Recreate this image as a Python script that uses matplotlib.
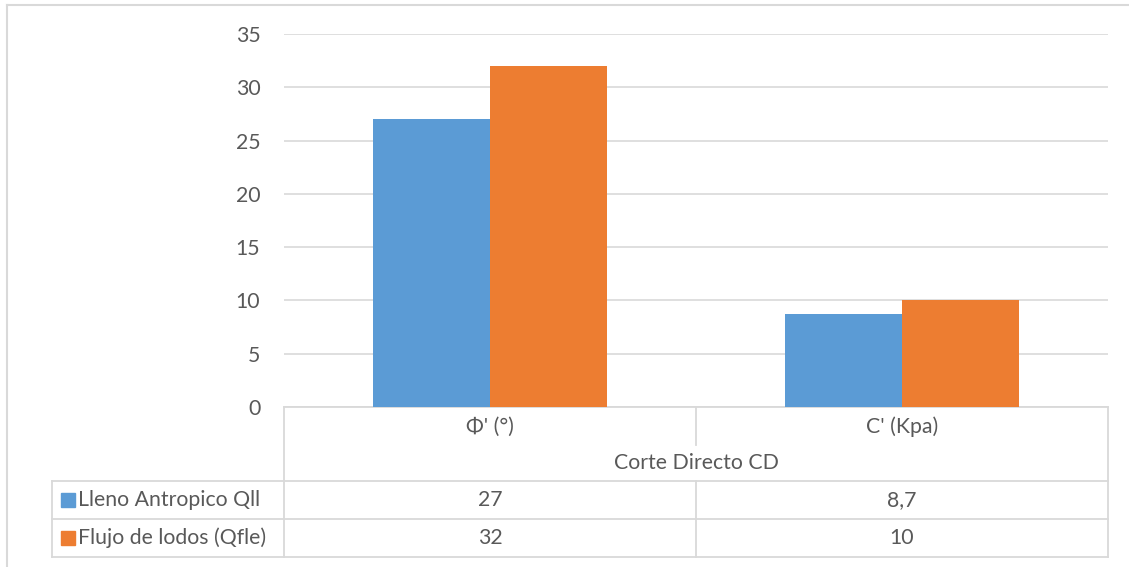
import matplotlib.pyplot as plt
from matplotlib.lines import Line2D
from matplotlib.patches import Rectangle
import matplotlib.transforms as mtransforms

categories = ["Φ' (°)", "C' (Kpa)"]
group_label = "Corte Directo CD"
series_names = ["Lleno Antropico Qll", "Flujo de lodos (Qfle)"]
series_values = [[27, 8.7], [32, 10]]
series_text = [["27", "8,7"], ["32", "10"]]
colors = ["#5B9BD5", "#ED7D31"]
yticks = [0, 5, 10, 15, 20, 25, 30, 35]

W, H = 1129, 567
plt.rcParams["font.family"] = ["Lato", "DejaVu Sans"]
text_color = "#595959"
line_color = "#D9D9D9"
fs = 15.3


def fy(py):
    # pixel row (from top) -> figure fraction
    return 1 - py / H


def fx(px):
    return px / W


fig = plt.figure(figsize=(W / 100, H / 100), dpi=100)
ax = fig.add_axes([fx(284), fy(407), fx(1108) - fx(284), fy(34) - fy(407)])

bar_w = 0.285
for i, (name, vals) in enumerate(zip(series_names, series_values)):
    offs = (i - 0.5) * bar_w
    ax.bar([k + offs for k in range(len(categories))], vals, width=bar_w,
           color=colors[i], zorder=3)

ax.set_xlim(-0.5, len(categories) - 0.5)
ax.set_ylim(0, 35)
ax.set_yticks(yticks)
ax.set_xticks([])
ax.grid(axis="y", color=line_color, linewidth=1.2, zorder=0)
for s in ax.spines.values():
    s.set_visible(False)
ax.tick_params(axis="y", length=0, pad=17, labelsize=fs, labelcolor=text_color)

# outer chart border (left and top edges visible)
fig.add_artist(Line2D([fx(6.5), fx(6.5)], [fy(5), 0], color=line_color, lw=1.5))
fig.add_artist(Line2D([fx(6.5), 1], [fy(5), fy(5)], color=line_color, lw=1.5))

# data table
bt = mtransforms.blended_transform_factory(ax.transData, fig.transFigure)
x_left = -0.5
x_right = len(categories) - 0.5
y0, y_hdr, y_r1, y_r2 = 407, 481, 519, 557
lw = 1.3

# vertical lines
ax.add_artist(Line2D([x_left, x_left], [fy(y0), fy(y_r2)], transform=bt,
                     color=line_color, lw=lw, clip_on=False))
ax.add_artist(Line2D([x_right, x_right], [fy(y0), fy(y_r2)], transform=bt,
                     color=line_color, lw=lw, clip_on=False))
for k in range(1, len(categories)):
    xb = k - 0.5
    ax.add_artist(Line2D([xb, xb], [fy(y0), fy(445)], transform=bt,
                         color=line_color, lw=lw, clip_on=False))
    ax.add_artist(Line2D([xb, xb], [fy(y_hdr), fy(y_r2)], transform=bt,
                         color=line_color, lw=lw, clip_on=False))
# horizontal lines
ax.add_artist(Line2D([x_left, x_right], [fy(y0), fy(y0)], transform=bt,
                     color=line_color, lw=lw, clip_on=False))
for yy in [y_hdr, y_r1, y_r2]:
    fig.add_artist(Line2D([fx(52), fx(1108)], [fy(yy), fy(yy)],
                          color=line_color, lw=lw))
fig.add_artist(Line2D([fx(52), fx(52)], [fy(y_hdr), fy(y_r2)],
                      color=line_color, lw=lw))

# header texts
for k, cat in enumerate(categories):
    ax.text(k, fy(427), cat, transform=bt, ha="center", va="center",
            fontsize=fs, color=text_color)
ax.text((x_left + x_right) / 2, fy(463), group_label, transform=bt,
        ha="center", va="center", fontsize=fs, color=text_color)

# rows
row_centers = [(y_hdr + y_r1) / 2, (y_r1 + y_r2) / 2]
for i, name in enumerate(series_names):
    yc = row_centers[i]
    fig.add_artist(Rectangle((fx(61), fy(yc + 6.5)), fx(13.5), 13.5 / H,
                             color=colors[i], transform=fig.transFigure))
    fig.text(fx(78), fy(yc), name, ha="left", va="center", fontsize=fs,
             color=text_color)
    for k in range(len(categories)):
        ax.text(k, fy(yc), series_text[i][k], transform=bt, ha="center",
                va="center", fontsize=fs, color=text_color)

fig.savefig("out.png", dpi=100)
